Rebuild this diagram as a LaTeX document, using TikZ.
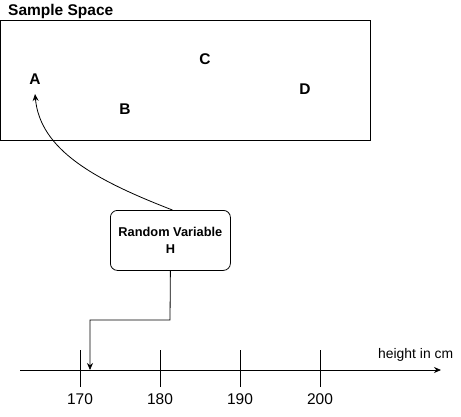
\documentclass[tikz,border=0pt]{standalone}
\usepackage{fontspec}
\setmainfont{Liberation Sans}
\usetikzlibrary{arrows.meta}
\begin{document}
\begin{tikzpicture}[x=1pt,y=-1pt,
  lbl/.style={font=\bfseries\fontsize{15.5}{18}\selectfont, inner sep=0pt},
  tick/.style={draw, line width=0.8pt},
  num/.style={font=\fontsize{15.5}{18}\selectfont, inner sep=0pt},
  conn/.style={draw, line width=0.8pt, -{Stealth[length=7pt,width=6pt]}}]
\useasboundingbox (0,0) rectangle (461,416);
\node[draw, line width=0.8pt, minimum width=370pt, minimum height=120pt, inner sep=0pt, anchor=north west] (space) at (0,20) {};
\node[font=\bfseries\fontsize{15.5}{18}\selectfont, anchor=west, inner sep=0pt] (title) at (8,11) {Sample Space};
\node[lbl] (A) at (35,79) {A};
\node[lbl] (B) at (125,109) {B};
\node[lbl] (C) at (205,59) {C};
\node[lbl] (D) at (305,89) {D};
\coordinate (Atip) at (35,94);
\node[draw, line width=0.8pt, rounded corners=7pt, minimum width=120pt, minimum height=60pt, align=center, font=\bfseries\fontsize{12.8}{17.5}\selectfont, anchor=north west] (rv) at (110,210) {Random Variable\\H};
\draw[conn] (rv.north) ++(2,0) .. controls (95,180) and (40,150) .. (Atip);
% axis
\coordinate (axL) at (20,370);
\coordinate (axR) at (441,370);
\draw[conn] (axL) -- (axR);
\foreach \x/\v in {80/170,160/180,240/190,320/200}{
  \draw[tick] (\x,350) -- (\x,387);
  \node[num] (n\v) at (\x,399) {\v};
}
\node[font=\fontsize{13.9}{16}\selectfont, anchor=west, inner sep=0pt] (unit) at (378,355) {height in cm};
\coordinate (hit) at (90,370);
\draw[conn] (rv.south) -- (170,320) -- (90,320) -- (hit);
\end{tikzpicture}
\end{document}
